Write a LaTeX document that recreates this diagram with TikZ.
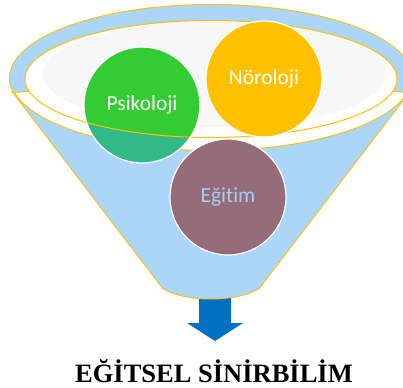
\documentclass[tikz,border=0pt]{standalone}
\usepackage{fontspec}
\setmainfont{Liberation Serif}
\newfontfamily\calibri{Carlito}[Ligatures={NoCommon}]
\usetikzlibrary{positioning}

\definecolor{funnelblue}{HTML}{ABD5F9}
\definecolor{rimorange}{HTML}{FFC000}
\definecolor{rimgray}{HTML}{F7F7F7}
\definecolor{psigreen}{HTML}{33CC33}
\definecolor{psiteal}{HTML}{33B888}
\definecolor{noroorange}{HTML}{FFC000}
\definecolor{egitmauve}{HTML}{946C7A}
\definecolor{egittext}{HTML}{A9CDF2}
\definecolor{arrowblue}{HTML}{0070C0}

\tikzset{
  topic/.style={circle, minimum size=116pt, inner sep=0pt, draw=white, line width=1.2pt,
    text=white, font=\calibri\fontsize{21.5}{25}\selectfont},
  rim/.style={x radius=186, y radius=58.5},
}

\begin{document}
\begin{tikzpicture}[x=1pt,y=-1pt]
        \clip (0,0) rectangle (403,387);
        % Arrow out of the funnel
        \fill[arrowblue] (199,296) -- (231,296) -- (231,323) -- (243,323) -- (215,341)
            -- (187,323) -- (199,323) -- cycle;

        % Funnel (border drawn wide, then covered by the fill)
        \draw[rimorange, line width=2pt] (211,78) ellipse [x radius=201, y radius=73]
            (13,92) -- (163,288) .. controls (185,302) and (237,302) .. (259,288) -- (409,92) -- (211,78) -- cycle;
        \fill[funnelblue] (211,78) ellipse [x radius=201, y radius=73]
            (13,92) -- (163,288) .. controls (185,302) and (237,302) .. (259,288) -- (409,92) -- (211,78) -- cycle;

        % Opening of the funnel
        \fill[white] (211,79) ellipse [rim];
        \fill[rimgray] (215,74) ellipse [x radius=172, y radius=53];

        % Psikoloji, green inside the opening, teal below it
        \fill[psiteal] (142,105) circle (58);
        \begin{scope}
            \clip (211,79) ellipse [rim];
            \fill[psigreen] (142,105) circle (58);
        \end{scope}
        \draw[rimorange, line width=1pt] (211,79) ellipse [rim];
        \node[topic] (psikoloji) at (142,105) {Psikoloji};

        \node[topic, fill=noroorange] (noroloji) at (264,79) {Nöroloji};
        \node[topic, fill=egitmauve, text=egittext] (egitim) at (228,197) {Eğitim};

        % Title
        \node[anchor=base, font=\bfseries\fontsize{26.5}{30}\selectfont] (title) at (214,382) {EĞİTSEL SİNİRBİLİM};
\end{tikzpicture}
\end{document}
